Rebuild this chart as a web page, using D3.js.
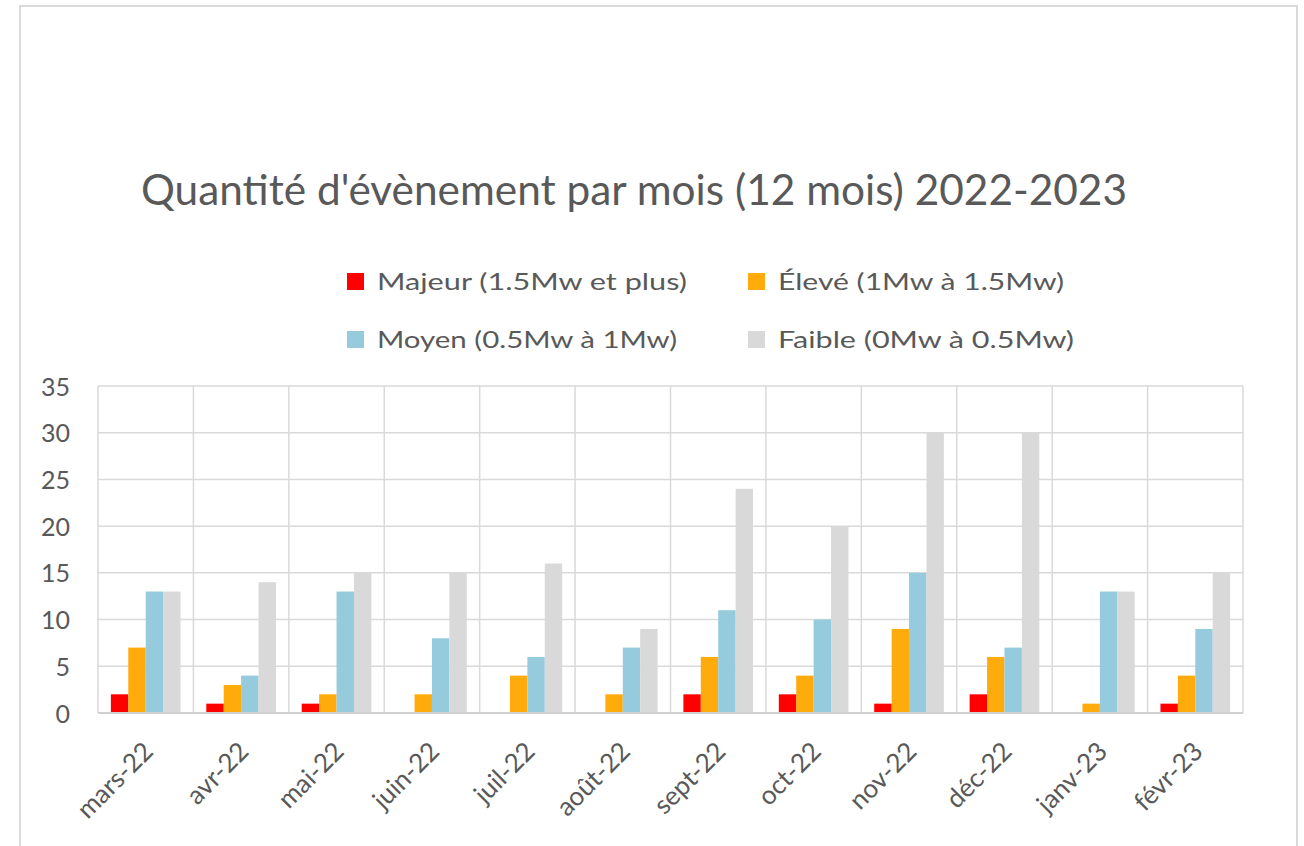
<!DOCTYPE html>
<html>
<head>
<meta charset="utf-8">
<script src="https://cdn.jsdelivr.net/npm/d3@7/dist/d3.min.js"></script>
<style>
  html, body { margin: 0; padding: 0; background: #ffffff; }
  svg { display: block; }
</style>
</head>
<body>
<svg id="chart" width="1304" height="846"></svg>
<script>
// Monthly event counts by magnitude class, March 2022 – February 2023
const months = ["mars-22", "avr-22", "mai-22", "juin-22", "juil-22", "août-22",
                "sept-22", "oct-22", "nov-22", "déc-22", "janv-23", "févr-23"];
const seriesNames = ["Majeur (1.5Mw et plus)", "Élevé (1Mw à 1.5Mw)",
                     "Moyen (0.5Mw à 1Mw)", "Faible (0Mw à 0.5Mw)"];
const majeur = [2, 1, 1, 0, 0, 0, 2, 2, 1, 2, 0, 1];
const eleve  = [7, 3, 2, 2, 4, 2, 6, 4, 9, 6, 1, 4];
const moyen  = [13, 4, 13, 8, 6, 7, 11, 10, 15, 7, 13, 9];
const faible = [13, 14, 15, 15, 16, 9, 24, 20, 30, 30, 13, 15];
const yTicks = [0, 5, 10, 15, 20, 25, 30, 35];
const colors = ["#ff0000", "#ffab0c", "#95cbdc", "#d9d9d9"];

const seriesValues = [majeur, eleve, moyen, faible];
const title = "Quantité d'évènement par mois (12 mois) 2022-2023";

const svg = d3.select("#chart");
const textColor = "#595959";
const gridColor = "#d9d9d9";
const font = "Lato, 'Open Sans', sans-serif";

// outer chart frame
svg.append("rect")
  .attr("x", 20).attr("y", 6)
  .attr("width", 1277).attr("height", 860)
  .attr("fill", "#ffffff")
  .attr("stroke", "#dadada").attr("stroke-width", 2);

// title
svg.append("text")
  .attr("x", 634).attr("y", 205)
  .attr("text-anchor", "middle")
  .attr("font-family", font).attr("font-size", 42)
  .attr("fill", textColor)
  .attr("textLength", 986).attr("lengthAdjust", "spacingAndGlyphs")
  .text(title);

// legend (2 x 2)
const legendPos = [
  { x: 347, y: 273, tw: 310 },
  { x: 748, y: 273, tw: 286 },
  { x: 347, y: 331, tw: 300 },
  { x: 748, y: 331, tw: 296 }
];
const legend = svg.append("g");
seriesNames.forEach((name, i) => {
  const p = legendPos[i];
  legend.append("rect")
    .attr("x", p.x).attr("y", p.y)
    .attr("width", 17).attr("height", 17)
    .attr("fill", colors[i]);
  legend.append("text")
    .attr("x", p.x + 30).attr("y", p.y + 17)
    .attr("font-family", font).attr("font-size", 24)
    .attr("fill", textColor)
    .attr("textLength", p.tw).attr("lengthAdjust", "spacingAndGlyphs")
    .text(name);
});

// plot area
const plot = { left: 98, right: 1243, top: 386, bottom: 713 };

const x0 = d3.scaleBand()
  .domain(months)
  .range([plot.left, plot.right])
  .paddingInner(0).paddingOuter(0);

const x1 = d3.scaleBand()
  .domain(d3.range(seriesNames.length))
  .range([0, x0.bandwidth()])
  .paddingInner(0).paddingOuter(0.74);

const y = d3.scaleLinear()
  .domain([0, 35])
  .range([plot.bottom, plot.top]);

// horizontal gridlines
svg.append("g")
  .selectAll("line")
  .data(yTicks)
  .join("line")
  .attr("x1", plot.left).attr("x2", plot.right)
  .attr("y1", d => y(d)).attr("y2", d => y(d))
  .attr("stroke", gridColor).attr("stroke-width", 1.5);

// vertical gridlines at category boundaries
const bounds = months.map(m => x0(m)).concat([plot.right]);
svg.append("g")
  .selectAll("line")
  .data(bounds)
  .join("line")
  .attr("x1", d => d).attr("x2", d => d)
  .attr("y1", plot.top).attr("y2", plot.bottom)
  .attr("stroke", gridColor).attr("stroke-width", 1.5);

// bars
const groups = svg.append("g")
  .selectAll("g")
  .data(months)
  .join("g")
  .attr("transform", m => `translate(${x0(m)},0)`);

groups.selectAll("rect")
  .data((m, i) => seriesValues.map((vals, s) => ({ s, v: vals[i] })))
  .join("rect")
  .attr("x", d => x1(d.s))
  .attr("width", x1.bandwidth())
  .attr("y", d => y(d.v))
  .attr("height", d => y(0) - y(d.v))
  .attr("fill", d => colors[d.s]);

// baseline axis line
svg.append("line")
  .attr("x1", plot.left).attr("x2", plot.right)
  .attr("y1", y(0)).attr("y2", y(0))
  .attr("stroke", "#d0d0d0").attr("stroke-width", 2);

// y axis labels
const yAxis = d3.axisLeft(y).tickValues(yTicks).tickSize(0).tickPadding(0);
const yg = svg.append("g")
  .attr("transform", `translate(${plot.left - 28},0)`)
  .call(yAxis);
yg.select(".domain").remove();
yg.selectAll("text")
  .attr("font-family", font).attr("font-size", 25)
  .attr("fill", textColor)
  .attr("dy", "0.36em");

// x axis labels, rotated
const xAxis = d3.axisBottom(x0).tickSize(0).tickPadding(0);
const xg = svg.append("g")
  .attr("transform", `translate(0,${plot.bottom})`)
  .call(xAxis);
xg.select(".domain").remove();
xg.selectAll("text")
  .attr("font-family", font).attr("font-size", 26)
  .attr("fill", textColor)
  .attr("text-anchor", "end")
  .attr("y", 0).attr("dy", 0)
  .attr("transform", "translate(9,40) rotate(-45)");
</script>
</body>
</html>
